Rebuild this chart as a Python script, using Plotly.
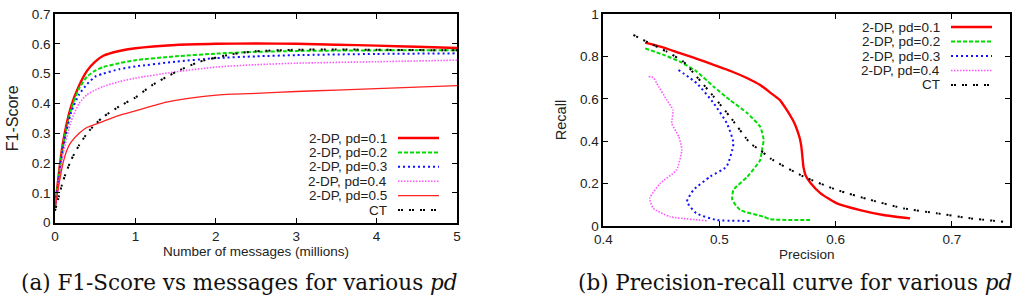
import plotly.graph_objects as go

W, H = 1018, 297

# ---------------- (a) F1-Score vs number of messages ----------------
a_names = ["2-DP, pd=0.1", "2-DP, pd=0.2", "2-DP, pd=0.3", "2-DP, pd=0.4", "2-DP, pd=0.5", "CT"]

a_x_pd01 = [0, 0.05, 0.1, 0.2, 0.3, 0.4, 0.5, 0.6, 0.8, 1.0, 1.5, 2.0, 2.5, 3.0, 3.5, 4.0, 4.5, 5.0]
a_y_pd01 = [0.05, 0.17, 0.27, 0.39, 0.46, 0.51, 0.54, 0.56, 0.576, 0.585, 0.596, 0.600, 0.601, 0.600, 0.597, 0.594, 0.590, 0.586]

a_x_pd02 = [0, 0.05, 0.1, 0.2, 0.3, 0.4, 0.5, 0.6, 0.8, 1.0, 1.5, 2.0, 2.5, 3.0, 4.0, 5.0]
a_y_pd02 = [0.05, 0.16, 0.26, 0.38, 0.45, 0.49, 0.51, 0.522, 0.535, 0.545, 0.558, 0.567, 0.573, 0.576, 0.578, 0.578]

a_x_pd03 = [0, 0.05, 0.1, 0.2, 0.3, 0.4, 0.5, 0.6, 0.8, 1.0, 1.5, 2.0, 2.5, 3.0, 4.0, 5.0]
a_y_pd03 = [0.05, 0.15, 0.25, 0.37, 0.43, 0.465, 0.49, 0.50, 0.515, 0.524, 0.54, 0.552, 0.558, 0.562, 0.566, 0.568]

a_x_pd04 = [0, 0.05, 0.1, 0.2, 0.3, 0.4, 0.5, 0.6, 0.8, 1.0, 1.5, 2.0, 2.5, 3.0, 4.0, 5.0]
a_y_pd04 = [0.05, 0.14, 0.23, 0.34, 0.40, 0.43, 0.445, 0.457, 0.473, 0.485, 0.506, 0.522, 0.530, 0.535, 0.540, 0.545]

a_x_pd05 = [0, 0.05, 0.1, 0.15, 0.2, 0.3, 0.4, 0.5, 0.6, 0.8, 1.0, 1.4, 1.8, 2.2, 2.5, 3.0, 3.5, 4.0, 4.5, 5.0]
a_y_pd05 = [0.05, 0.13, 0.20, 0.245, 0.27, 0.30, 0.32, 0.33, 0.34, 0.36, 0.375, 0.405, 0.422, 0.431, 0.434, 0.44, 0.445, 0.45, 0.455, 0.46]

a_x_ct = [0, 0.05, 0.1, 0.2, 0.3, 0.4, 0.5, 0.6, 0.8, 1.0, 1.2, 1.5, 1.8, 2.2, 2.5, 3.0, 3.5, 4.0, 4.5, 5.0]
a_y_ct = [0.04, 0.09, 0.14, 0.21, 0.26, 0.30, 0.33, 0.355, 0.39, 0.42, 0.46, 0.505, 0.54, 0.565, 0.575, 0.58, 0.581, 0.58, 0.579, 0.578]

a_xticks = [0, 1, 2, 3, 4, 5]
a_yticks = [0, 0.1, 0.2, 0.3, 0.4, 0.5, 0.6, 0.7]

# ---------------- (b) Precision-recall ----------------
b_names = ["2-DP, pd=0.1", "2-DP, pd=0.2", "2-DP, pd=0.3", "2-DP, pd=0.4", "CT"]

b_p_pd01 = [0.436, 0.45, 0.466, 0.48, 0.495, 0.51, 0.524, 0.535, 0.544, 0.552, 0.557, 0.561, 0.5645, 0.567, 0.569, 0.5703, 0.5713, 0.5722, 0.574, 0.578, 0.587, 0.601, 0.621, 0.641, 0.664]
b_r_pd01 = [0.865, 0.845, 0.815, 0.79, 0.76, 0.73, 0.697, 0.665, 0.628, 0.594, 0.555, 0.52, 0.485, 0.45, 0.415, 0.38, 0.33, 0.28, 0.24, 0.205, 0.154, 0.107, 0.075, 0.052, 0.036]

b_p_pd02 = [0.436, 0.452, 0.466, 0.4805, 0.495, 0.509, 0.524, 0.535, 0.538, 0.5365, 0.535, 0.524, 0.512, 0.511, 0.518, 0.538, 0.5437, 0.578]
b_r_pd02 = [0.838, 0.807, 0.775, 0.728, 0.657, 0.594, 0.532, 0.468, 0.406, 0.358, 0.311, 0.233, 0.17, 0.123, 0.075, 0.044, 0.032, 0.028]

b_p_pd03 = [0.4647, 0.4805, 0.495, 0.5064, 0.512, 0.506, 0.492, 0.4776, 0.472, 0.48, 0.4977, 0.528]
b_r_pd03 = [0.736, 0.673, 0.579, 0.484, 0.39, 0.28, 0.233, 0.17, 0.115, 0.06, 0.028, 0.024]

b_p_pd04 = [0.439, 0.443, 0.446, 0.4547, 0.46, 0.459, 0.465, 0.4676, 0.463, 0.4489, 0.44, 0.443, 0.4575, 0.489]
b_r_pd04 = [0.705, 0.70, 0.673, 0.594, 0.547, 0.484, 0.421, 0.36, 0.264, 0.201, 0.131, 0.083, 0.044, 0.025]

b_p_ct = [0.4259, 0.44, 0.4547, 0.469, 0.4805, 0.495, 0.509, 0.5265, 0.535, 0.5437, 0.5724, 0.601, 0.63, 0.6586, 0.687, 0.716, 0.745]
b_r_ct = [0.901, 0.862, 0.822, 0.775, 0.704, 0.61, 0.516, 0.39, 0.358, 0.319, 0.233, 0.17, 0.123, 0.083, 0.06, 0.036, 0.02]

b_xticks = [0.4, 0.5, 0.6, 0.7]
b_yticks = [0, 0.2, 0.4, 0.6, 0.8, 1]

captions = ["(a) F1-Score vs messages for various <i>pd</i>",
            "(b) Precision-recall curve for various <i>pd</i>"]

# ---------------- styles ----------------
st = {
    "2-DP, pd=0.1": dict(color="#ff0000", width=2.4, dash="solid"),
    "2-DP, pd=0.2": dict(color="#00dd00", width=2.0, dash="4px,2px"),
    "2-DP, pd=0.3": dict(color="#1010ff", width=2.0, dash="2px,3px"),
    "2-DP, pd=0.4": dict(color="#ff55ff", width=1.6, dash="1.5px,1.5px"),
    "2-DP, pd=0.5": dict(color="#ff2020", width=1.3, dash="solid"),
    "CT": dict(color="#000000", width=2.0, dash="2px,1px,2px,6px"),
}

def px(x):
    return x / W

def py(y):
    return 1 - y / H

fig = go.Figure()

a_series = [(a_x_pd01, a_y_pd01), (a_x_pd02, a_y_pd02), (a_x_pd03, a_y_pd03),
            (a_x_pd04, a_y_pd04), (a_x_pd05, a_y_pd05), (a_x_ct, a_y_ct)]
for name, (xs, ys) in zip(a_names, a_series):
    fig.add_trace(go.Scatter(x=xs, y=ys, mode="lines", name=name, line=dict(shape="spline", smoothing=0.6, **st[name]),
                             xaxis="x", yaxis="y", showlegend=False))

b_series = [(b_p_pd01, b_r_pd01), (b_p_pd02, b_r_pd02), (b_p_pd03, b_r_pd03),
            (b_p_pd04, b_r_pd04), (b_p_ct, b_r_ct)]
for name, (xs, ys) in zip(b_names, b_series):
    fig.add_trace(go.Scatter(x=xs, y=ys, mode="lines", name=name, line=dict(shape="spline", smoothing=0.5, **st[name]),
                             xaxis="x2", yaxis="y2", showlegend=False))

SANS = "Liberation Sans, Arial, sans-serif"
tickfont = dict(family=SANS, size=13.5, color="#222")

def axis(domain, rng, ticks, anchor, title, standoff, tsize=13.5):
    return dict(domain=domain, range=rng, tickvals=ticks, ticks="inside", ticklen=5, tickwidth=1.2,
                tickcolor="black", showline=True, linecolor="black", linewidth=1.6, mirror="ticks",
                showgrid=False, zeroline=False, tickfont=tickfont, anchor=anchor,
                title=dict(text=title, font=dict(family=SANS, size=tsize, color="#222"), standoff=standoff),
                automargin=False)

fig.update_layout(
    width=W, height=H, margin=dict(l=0, r=0, t=0, b=0),
    paper_bgcolor="white", plot_bgcolor="white", showlegend=False,
    xaxis=axis([px(55), px(457)], [0, 5], a_xticks, "y", "Number of messages (millions)", 0),
    yaxis=axis([py(222.7), py(14)], [0, 0.7], a_yticks, "x", "F1-Score", 9, 16),
    xaxis2=axis([px(603.3), px(1010)], [0.4, 0.75], b_xticks, "y2", "Precision", 0),
    yaxis2=axis([py(226), py(14)], [0, 1], b_yticks, "x2", "Recall", 10, 14.5),
)

# ---------------- legends (text right-aligned, sample on the right, gnuplot style) ----------------
shapes = []
annotations = []

def legend(names, text_right, line_x0, line_x1, y_first, step):
    for i, name in enumerate(names):
        yc = y_first + i * step
        annotations.append(dict(text=name, x=px(text_right), y=py(yc), xref="paper", yref="paper",
                                xanchor="right", yanchor="middle", showarrow=False,
                                font=dict(family=SANS, size=13.5, color="#222")))
        s = st[name]
        shapes.append(dict(type="line", xref="paper", yref="paper", x0=px(line_x0), x1=px(line_x1),
                           y0=py(yc), y1=py(yc), line=dict(color=s["color"], width=s["width"], dash=s["dash"])))

legend(a_names, 389, 398, 439, 138, 14.4)
legend(b_names, 942, 951, 992, 27, 14.5)

SERIF = "DejaVu Serif, serif"
annotations.append(dict(text=captions[0], x=px(239), y=py(282), xref="paper", yref="paper",
                        xanchor="center", yanchor="middle", showarrow=False,
                        font=dict(family=SERIF, size=21.5, color="#111")))
annotations.append(dict(text=captions[1], x=px(1014), y=py(282), xref="paper", yref="paper",
                        xanchor="right", yanchor="middle", showarrow=False,
                        font=dict(family=SERIF, size=21.5, color="#111")))

fig.update_layout(shapes=shapes, annotations=annotations)

fig.write_html("out.html")
